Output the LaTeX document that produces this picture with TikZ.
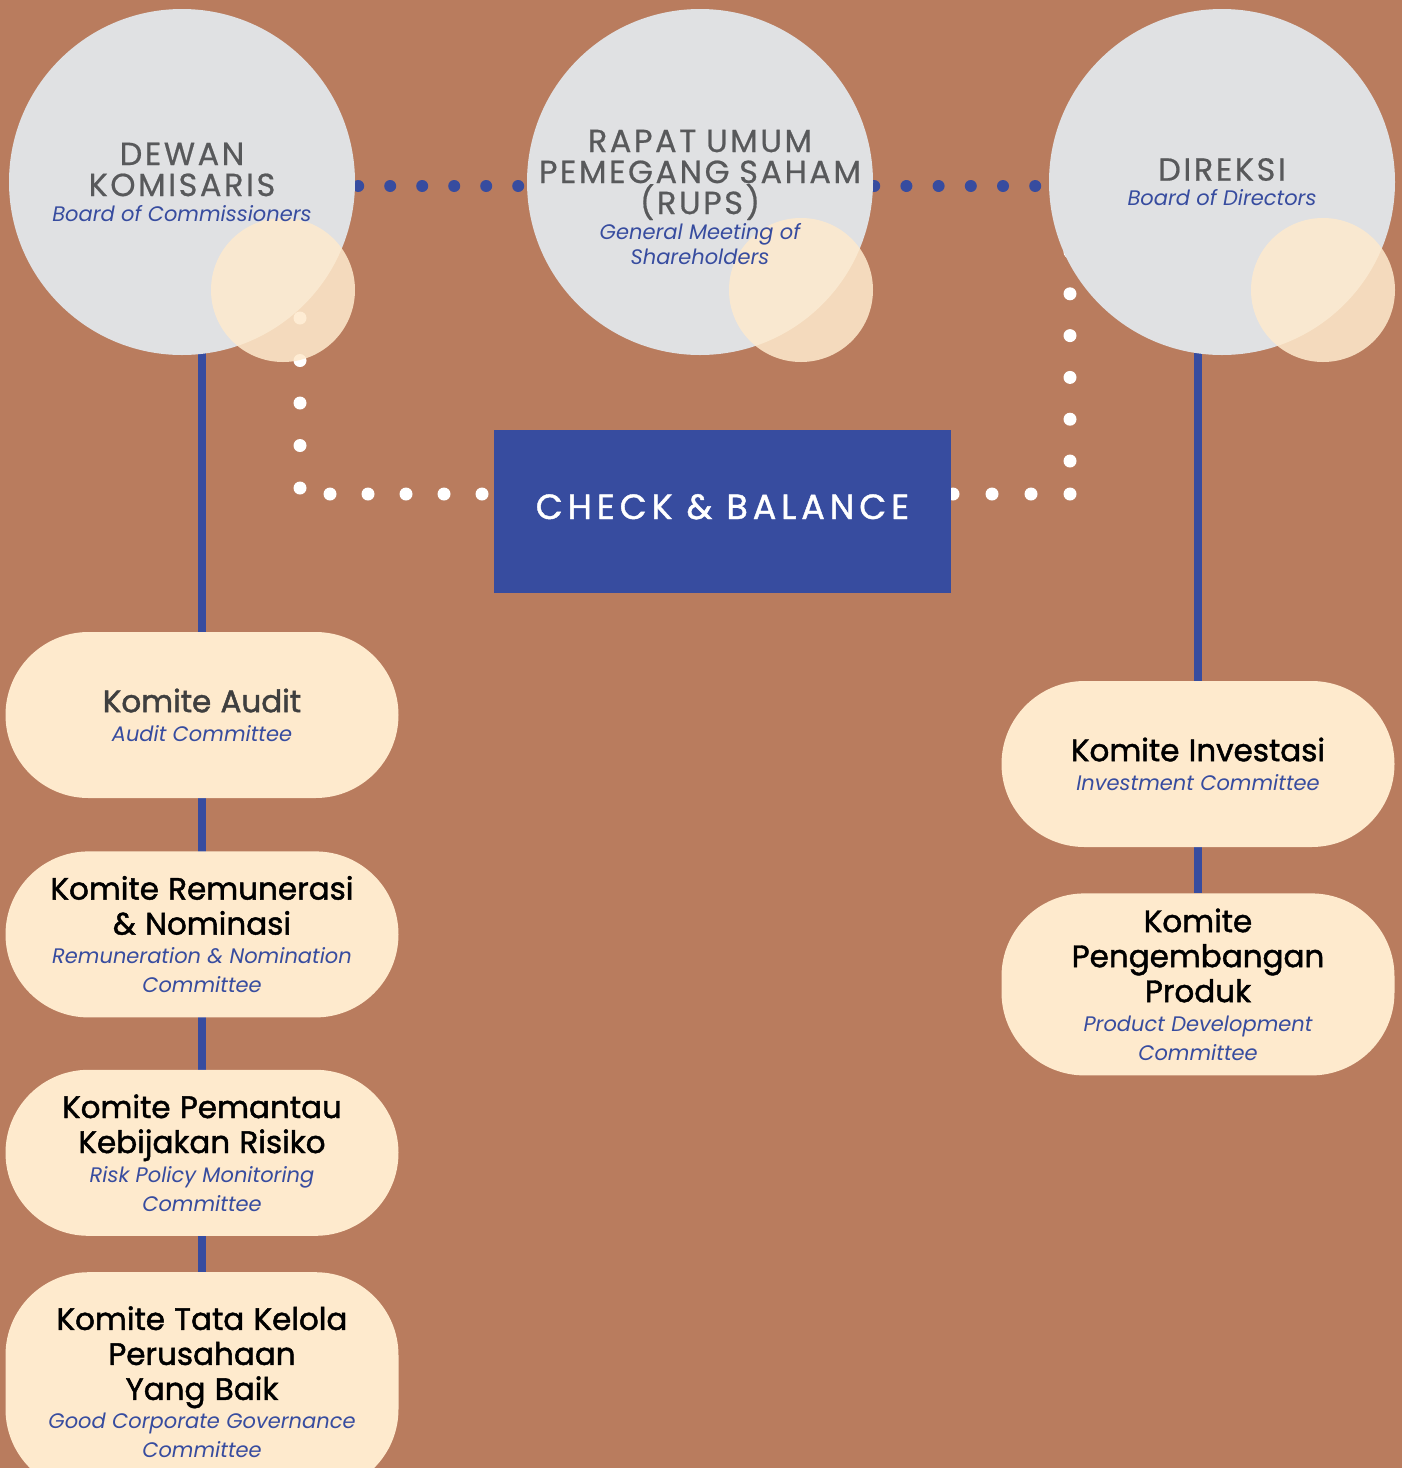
\documentclass[tikz,border=0pt]{standalone}
\usepackage{fontspec}
\setmainfont{Poppins}
\usetikzlibrary{positioning}

\definecolor{terra}{HTML}{B97C5E}
\definecolor{mist}{HTML}{E0E1E3}
\definecolor{cream}{HTML}{FEEACD}
\definecolor{royal}{HTML}{374C9F}
\definecolor{slate}{HTML}{58595B}
\definecolor{ink}{HTML}{3F3F3F}

\pgfdeclarelayer{bg}
\pgfdeclarelayer{links}
\pgfsetlayers{bg,links,main}

\newcommand{\headfont}{\fontsize{32}{31}\selectfont\addfontfeature{LetterSpace=8,FakeBold=0.6}\spaceskip=.3em\relax}
\newcommand{\circsub}{\fontsize{21}{25}\selectfont\itshape\color{royal}\spaceskip=.3em\relax}
\newcommand{\komfont}{\fontsize{31}{35}\selectfont\addfontfeature{FakeBold=1.5}\spaceskip=.3em\relax}
\newcommand{\komsub}{\fontsize{21}{29}\selectfont\itshape\color{royal}\spaceskip=.3em\relax}
\newcommand{\checkfont}{\fontsize{35}{36}\selectfont\addfontfeature{FakeBold=1.2,LetterSpace=14}\spaceskip=.4em\relax}

\begin{document}
\begin{tikzpicture}[x=1pt,y=-1pt,
  bigdisc/.style={circle, fill=mist, minimum size=346pt, inner sep=0pt},
  smalldisc/.style={circle, fill=cream, fill opacity=0.86, minimum size=144pt, inner sep=0pt},
  disctext/.style={text width=340pt, align=center, text=slate, inner sep=0pt},
  pill/.style={rectangle, rounded corners=83pt, fill=cream, minimum width=393pt, minimum height=166pt, text width=385pt, align=center, inner sep=0pt},
  balance/.style={rectangle, fill=royal, minimum width=457pt, minimum height=163pt, text=white, font=\checkfont, text height=15pt, text depth=0pt},
  trunk/.style={draw=royal, line width=8pt},
  bluedots/.style={draw=royal, line width=12pt, line cap=round, dash pattern=on 0pt off 32pt},
  whitedots/.style={draw=white, line width=13pt, line cap=round, dash pattern=on 0pt off 42.5pt}]

\useasboundingbox (0,0) rectangle (1402,1468);
\begin{pgfonlayer}{bg}
  \fill[terra] (0,0) rectangle (1402,1468);
\end{pgfonlayer}

% organs
\node[bigdisc] (dewan) at (182,182) {};
\node[smalldisc] (dewanS) at (283,290) {};
\node[bigdisc] (rups) at (700,182) {};
\node[smalldisc] (rupsS) at (801,290) {};
\node[bigdisc] (direksi) at (1222,182) {};
\node[smalldisc] (direksiS) at (1323,290) {};

\node[disctext] at (dewan) {{\headfont DEWAN\\KOMISARIS\par}{\circsub Board of Commissioners\par}};
\node[disctext, yshift=-15pt] at (rups) {{\headfont RAPAT UMUM\\PEMEGANG SAHAM\\(RUPS)\par}{\circsub General Meeting of\\Shareholders\par}};
\node[disctext] at (direksi) {{\headfont DIREKSI\par}{\circsub Board of Directors\par}};

\node[balance] (check) at (722.5,511.5) {CHECK \& BALANCE};

% committees under the board of commissioners
\node[pill] (audit) at (202,715) {{\komfont\color{ink}Komite Audit\par}{\komsub Audit Committee\par}};
\node[pill, below=53pt of audit] (remun) {{\komfont Komite Remunerasi\\\& Nominasi\par}{\komsub Remuneration \& Nomination\\Committee\par}};
\node[pill, below=52pt of remun] (risiko) {{\komfont Komite Pemantau\\Kebijakan Risiko\par}{\komsub Risk Policy Monitoring\\Committee\par}};
\node[pill, below=36pt of risiko, minimum height=220pt] (gcg) {{\komfont Komite Tata Kelola\\Perusahaan\\Yang Baik\par}{\komsub Good Corporate Governance\\Committee\par}};

% committees under the directors
\node[pill] (invest) at (1198,764) {{\komfont Komite Investasi\par}{\komsub Investment Committee\par}};
\node[pill, below=46pt of invest, minimum height=182pt] (produk) {{\komfont Komite\\Pengembangan\\Produk\par}{\komsub Product Development\\Committee\par}};

\coordinate (cornerL) at (300,494);
\coordinate (cornerR) at (1070,494);

\begin{pgfonlayer}{links}
  \draw[trunk] (audit |- dewan) -- (gcg);
  \draw[trunk] (invest |- direksi) -- (produk);
  \draw[bluedots] ([shift={(3,4)}]dewan.east) -- ([shift={(-8,4)}]rups.west);
  \draw[bluedots, dash pattern=on 0pt off 32.2pt] ([shift={(1,4)}]rups.east) -- ([shift={(-12,4)}]direksi.west);
  \draw[whitedots] ([yshift=6pt]cornerL) -- ++(0,-213);
  \draw[whitedots, dash pattern=on 0pt off 38pt] ([xshift=30pt]cornerL) -- (check.west |- cornerL);
  \draw[whitedots, dash pattern=on 0pt off 41.8pt] ([yshift=33pt]cornerR) -- ++(0,-209);
  \draw[whitedots, dash pattern=on 0pt off 39pt] (cornerR) -- (check.east |- cornerR);
\end{pgfonlayer}
\end{tikzpicture}
\end{document}
